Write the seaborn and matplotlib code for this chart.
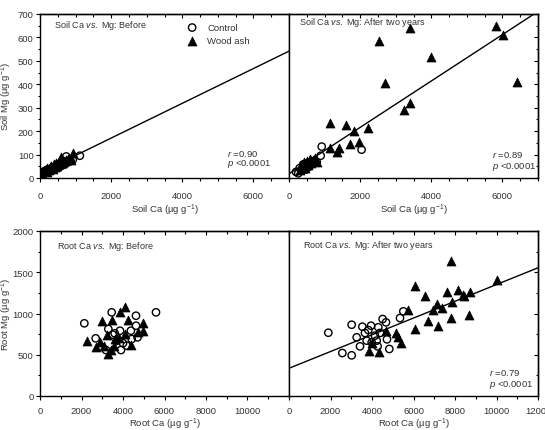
import numpy as np
import matplotlib
matplotlib.use("Agg")
import matplotlib.pyplot as plt
import seaborn as sns
from matplotlib.ticker import MultipleLocator

# ============================================================
# DATA
# ============================================================

# Soil, before
soil_before_ctrl_ca = [90, 130, 160, 190, 220, 250, 280, 310, 340, 370, 400, 440, 480,
                       520, 560, 600, 650, 700, 740, 800, 860, 920, 1120, 300, 420]
soil_before_ctrl_mg = [24, 30, 27, 34, 30, 37, 31, 40, 35, 44, 39, 47, 50,
                       44, 55, 52, 60, 58, 92, 68, 72, 78, 95, 33, 43]
soil_before_ash_ca = [60, 100, 140, 170, 210, 250, 280, 320, 350, 380, 410, 440, 470,
                      500, 540, 580, 620, 680, 720, 790, 860, 940, 200, 360]
soil_before_ash_mg = [22, 28, 36, 30, 42, 35, 46, 52, 42, 58, 48, 62, 53,
                      64, 58, 88, 66, 72, 76, 80, 78, 105, 27, 38]

# Soil, after two years
soil_after_ctrl_ca = [197, 260, 300, 350, 400, 430, 480, 520, 560, 600, 650, 700,
                      780, 890, 920, 2040]
soil_after_ctrl_mg = [26, 20, 42, 32, 58, 48, 36, 62, 48, 55, 60, 72,
                      68, 95, 134, 121]
soil_after_ash_ca = [300, 350, 380, 420, 460, 500, 540, 580, 620, 680, 720, 800,
                     1143, 1152, 1340, 1414, 1600, 1714, 1836, 1967, 2220, 2520,
                     2700, 3240, 3400, 3410, 3980, 5817, 6023, 6400]
soil_after_ash_mg = [35, 55, 45, 68, 42, 72, 56, 80, 62, 75, 86, 70,
                     233, 127, 112, 127, 228, 145, 199, 155, 215, 586,
                     405, 290, 640, 319, 515, 647, 610, 408]

# Root, before
root_before_ctrl_ca = [2136, 2683, 3180, 3293, 3454, 3507, 3700, 3856, 3903, 4180,
                       4380, 4420, 4626, 4626, 4700, 5590, 3600, 4000]
root_before_ctrl_mg = [881, 699, 557, 812, 1014, 743, 670, 791, 557, 610,
                       791, 690, 852, 973, 711, 1014, 760, 640]
root_before_ash_ca = [2248, 2700, 2890, 3004, 3080, 3238, 3293, 3454, 3556, 3630,
                      3856, 4096, 4096, 4220, 4380, 4700, 4940, 4980, 3400, 3800]
root_before_ash_mg = [671, 590, 650, 913, 610, 739, 509, 920, 610, 690,
                      1014, 1082, 755, 920, 622, 780, 880, 791, 560, 700]

# Root, after two years
root_after_ctrl_ca = [1895, 2570, 3020, 3020, 3262, 3422, 3535, 3663, 3744, 3824,
                      3952, 3985, 4144, 4224, 4270, 4304, 4384, 4513, 4674, 4722,
                      4834, 5349, 5510]
root_after_ctrl_mg = [767, 521, 864, 493, 711, 602, 840, 764, 671, 800,
                      852, 650, 731, 671, 602, 833, 764, 933, 893, 687,
                      570, 945, 1026]
root_after_ash_ca = [3870, 4015, 4337, 4658, 5156, 5240, 5381, 5750, 6072, 6072,
                     6554, 6713, 6954, 7118, 7195, 7358, 7600, 7791, 7791, 7840,
                     8159, 8370, 8450, 8690, 8722, 10009]
root_after_ash_mg = [549, 638, 529, 784, 760, 711, 638, 1042, 1330, 812,
                     1208, 913, 1042, 1115, 844, 1070, 1257, 1633, 942, 1136,
                     1285, 1228, 1208, 982, 1264, 1406]

# Regression lines (intercept, slope) and stats
fit_soil_before = (22, 0.0742)
fit_soil_after = (18, 0.099)
fit_root_after = (336, 0.1015)
r_soil_before = "0.90"
r_soil_after = "0.89"
r_root_after = "0.79"
p_text = "<0.0001"

TITLES = [
    r"Soil Ca $\mathit{vs.}$ Mg: Before",
    r"Soil Ca $\mathit{vs.}$ Mg: After two years",
    r"Root Ca $\mathit{vs.}$ Mg: Before",
    r"Root Ca $\mathit{vs.}$ Mg: After two years",
]

# ============================================================
# STYLE
# ============================================================

sns.set_theme(style="ticks")
plt.rcParams["font.family"] = ["Liberation Sans", "DejaVu Sans"]
plt.rcParams["mathtext.fontset"] = "custom"
plt.rcParams["mathtext.rm"] = "Liberation Sans"
plt.rcParams["mathtext.it"] = "Liberation Sans:italic"
plt.rcParams["mathtext.bf"] = "Liberation Sans:bold"
plt.rcParams["mathtext.default"] = "regular"

TXT = "#333333"
FS = 6.8

fig = plt.figure(figsize=(5.45, 4.31), dpi=100)
W, H = 545, 431


def add_ax(x0, y0, x1, y1):
    return fig.add_axes([x0 / W, 1 - y1 / H, (x1 - x0) / W, (y1 - y0) / H])


ax_tl = add_ax(40, 15, 289, 179)
ax_tr = add_ax(289, 15, 538, 179)
ax_bl = add_ax(40, 232, 289, 397)
ax_br = add_ax(289, 232, 538, 397)


def draw_points(ax, ctrl_ca, ctrl_mg, ash_ca, ash_mg):
    sns.scatterplot(x=ctrl_ca, y=ctrl_mg, ax=ax, marker="o", s=28, color="black",
                    facecolor="none", edgecolor="black", linewidth=1.0,
                    label="Control", legend=False, zorder=3)
    sns.scatterplot(x=ash_ca, y=ash_mg, ax=ax, marker="^", s=42, color="black",
                    edgecolor="black", linewidth=0.5,
                    label="Wood ash", legend=False, zorder=3)


def draw_fit(ax, fit, xmax):
    line_x = np.array([0, xmax])
    line_y = fit[0] + fit[1] * line_x
    sns.lineplot(x=line_x, y=line_y, ax=ax, color="black", linewidth=1.0,
                 legend=False, zorder=2)


def setup(ax, xmax, xticks, xminor, ymax, ymajor, yminor, left, xpad, xlabel, ylabel):
    ax.set_xlim(0, xmax)
    ax.set_ylim(0, ymax)
    ax.set_xticks(xticks)
    ax.xaxis.set_minor_locator(MultipleLocator(xminor))
    ax.yaxis.set_major_locator(MultipleLocator(ymajor))
    ax.yaxis.set_minor_locator(MultipleLocator(yminor))
    for s in ax.spines.values():
        s.set_visible(True)
        s.set_linewidth(1.0)
        s.set_color("black")
    ax.tick_params(which="both", direction="out", width=0.8, color="black",
                   labelsize=FS, labelcolor=TXT, top=False, right=False)
    ax.tick_params(which="major", length=3)
    ax.tick_params(which="minor", length=1.8)
    ax.tick_params(axis="x", pad=xpad)
    ax.tick_params(axis="y", pad=1.5)

    # inward ticks on the top spine
    top = ax.secondary_xaxis("top")
    top.set_xticks([t for t in np.arange(0, xmax + 1, xticks[1] - xticks[0])])
    top.xaxis.set_minor_locator(MultipleLocator(xminor))
    top.tick_params(which="both", direction="in", width=0.8, color="black",
                    labeltop=False, labelbottom=False)
    top.tick_params(which="major", length=3)
    top.tick_params(which="minor", length=1.8)
    top.spines["top"].set_linewidth(1.0)

    if left:
        ax.set_ylabel(ylabel, fontsize=FS, color=TXT)
        ax.yaxis.set_label_coords(-0.104, 0.5)
    else:
        ax.set_ylabel("")
        ax.tick_params(axis="y", which="both", left=False, labelleft=False)
        right = ax.secondary_yaxis("right")
        right.yaxis.set_major_locator(MultipleLocator(ymajor))
        right.yaxis.set_minor_locator(MultipleLocator(yminor))
        right.tick_params(which="both", direction="in", width=0.8, color="black",
                          labelright=False, labelleft=False)
        right.tick_params(which="major", length=3)
        right.tick_params(which="minor", length=1.8)
        right.spines["right"].set_linewidth(1.0)

    ax.set_xlabel(xlabel, fontsize=FS, color=TXT)


def stats(ax, x, y_r, y_p, r_val):
    ax.text(x, y_r, r"$\mathit{r}$ =" + r_val, transform=ax.transAxes,
            fontsize=FS, color=TXT, ha="left", va="center")
    ax.text(x, y_p, r"$\mathit{p}$ " + p_text, transform=ax.transAxes,
            fontsize=FS, color=TXT, ha="left", va="center")


soil_x = "Soil Ca (µg g$^{-1}$)"
root_x = "Root Ca (µg g$^{-1}$)"

# ---- Soil before
draw_points(ax_tl, soil_before_ctrl_ca, soil_before_ctrl_mg,
            soil_before_ash_ca, soil_before_ash_mg)
draw_fit(ax_tl, fit_soil_before, 7000)
setup(ax_tl, 7000, [0, 2000, 4000, 6000], 500, 700, 100, 50, True, 6.5,
      soil_x, "Soil Mg (µg g$^{-1}$)")
stats(ax_tl, 0.75, 0.152, 0.090, r_soil_before)
leg = ax_tl.legend(loc="upper left", bbox_to_anchor=(0.592, 0.945), frameon=False,
                   fontsize=FS, handlelength=1.0, handletextpad=1.1,
                   labelspacing=0.45, borderpad=0, borderaxespad=0)
for t in leg.get_texts():
    t.set_color(TXT)

# ---- Soil after
draw_points(ax_tr, soil_after_ctrl_ca, soil_after_ctrl_mg,
            soil_after_ash_ca, soil_after_ash_mg)
draw_fit(ax_tr, fit_soil_after, 7000)
setup(ax_tr, 7000, [0, 2000, 4000, 6000], 500, 700, 100, 50, False, 6.5, soil_x, "")
stats(ax_tr, 0.814, 0.146, 0.073, r_soil_after)

# ---- Root before
draw_points(ax_bl, root_before_ctrl_ca, root_before_ctrl_mg,
            root_before_ash_ca, root_before_ash_mg)
setup(ax_bl, 12000, [0, 2000, 4000, 6000, 8000, 10000], 1000, 2000, 500, 250, True, 4.0,
      root_x, "Root Mg (µg g$^{-1}$)")

# ---- Root after
draw_points(ax_br, root_after_ctrl_ca, root_after_ctrl_mg,
            root_after_ash_ca, root_after_ash_mg)
draw_fit(ax_br, fit_root_after, 12000)
setup(ax_br, 12000, [0, 2000, 4000, 6000, 8000, 10000, 12000], 1000, 2000, 500, 250,
      False, 4.0, root_x, "")
stats(ax_br, 0.803, 0.145, 0.073, r_root_after)

# only the first panel keeps a legend
for ax in (ax_tr, ax_bl, ax_br):
    if ax.get_legend() is not None:
        ax.get_legend().remove()

# x-label positions
for ax in (ax_tl, ax_tr):
    ax.xaxis.set_label_coords(0.5, -0.146)
for ax in (ax_bl, ax_br):
    ax.xaxis.set_label_coords(0.5, -0.118)

# panel titles
for ax, title, pos in zip((ax_tl, ax_tr, ax_bl, ax_br), TITLES,
                          [(0.056, 0.933), (0.04, 0.955), (0.068, 0.915), (0.056, 0.921)]):
    ax.text(pos[0], pos[1], title, transform=ax.transAxes, fontsize=6.5,
            color=TXT, ha="left", va="center")

plt.savefig("out.png", dpi=100)
